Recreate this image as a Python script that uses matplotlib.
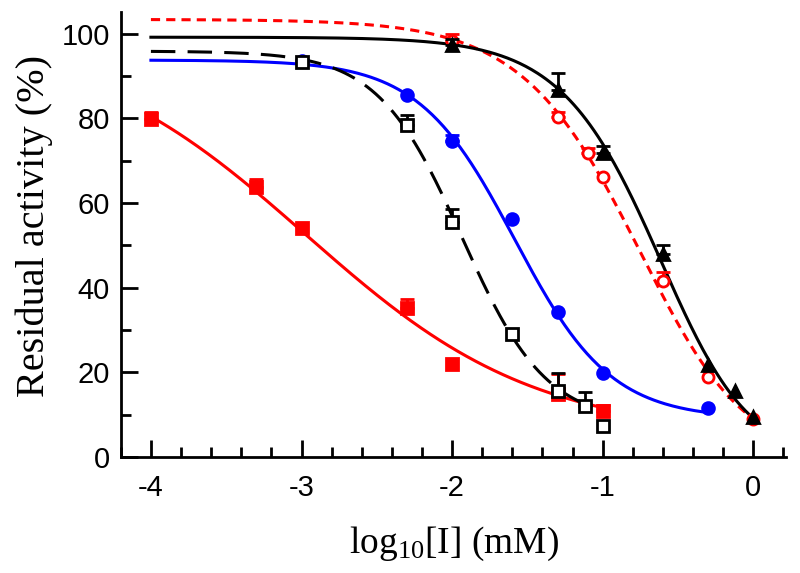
import numpy as np
import matplotlib
matplotlib.use("Agg")
import matplotlib.pyplot as plt
from matplotlib.ticker import MultipleLocator

plt.rcParams["font.family"] = "Liberation Sans"
plt.rcParams["mathtext.fontset"] = "custom"
plt.rcParams["mathtext.rm"] = "Liberation Serif"
plt.rcParams["mathtext.it"] = "Liberation Serif:italic"

# measured points: log10[I], residual activity (%), upper error (0 = hidden by marker)
sq_x = [-4, -3.3, -3, -2.3, -2, -1.3, -1]
sq_y = [79.8, 63.9, 54, 35.3, 22, 15, 10.8]
sq_e = [1.8, 1.8, 0, 2.1, 0, 4.6, 1.4]

osq_x = [-3, -2.3, -2, -1.6, -1.3, -1.12, -1]
osq_y = [93.3, 78.5, 55.5, 29, 15.5, 12, 7.4]
osq_e = [0, 2.4, 3.0, 0, 4.3, 3.4, 0]

dot_x = [-3, -2.3, -2, -1.6, -1.3, -1, -0.3]
dot_y = [93.6, 85.6, 74.7, 56.3, 34.2, 19.8, 11.6]
dot_e = [0, 0, 1.3, 0, 0, 0, 0]

tri_x = [-2, -1.3, -1, -0.6, -0.3, -0.12, 0]
tri_y = [97.4, 86.8, 71.9, 47.9, 21.7, 15.5, 9.4]
tri_e = [1.3, 3.9, 1.5, 2.1, 0, 0, 0]

oc_x = [-2, -1.3, -1.1, -1, -0.6, -0.3, 0]
oc_y = [98.4, 80.4, 71.9, 66.1, 41.6, 19.0, 8.9]
oc_e = [1.5, 1.2, 1.2, 0, 2.1, 0, 0]

# dose-response fits: top, bottom, logIC50, hill, asymmetry, x range
fit_sq = [100, 5, -2.97, 0.57, 1.0, -4, -1]
fit_osq = [95.9, 8, -1.935, 1.55, 1.0, -4, -1.1]
fit_dot = [93.8, 9, -1.584, 1.36, 1.0, -4, -0.3]
fit_tri = [99.2, 0, -0.47, 1.257, 1.5, -4, 0]
fit_oc = [103.4, 0, -0.578, 1.056, 1.5, -4, 0]


def dose_resp(p):
    top, bot, x50, h, s, x0, x1 = p
    x = np.linspace(x0, x1, 300)
    return x, bot + (top - bot) / (1 + 10 ** ((x - x50) * h)) ** s


def points(xs, ys, es, color, marker, ms, face, z):
    xs, ys, es = np.array(xs), np.array(ys), np.array(es)
    m = es > 0
    ax.errorbar(xs[m], ys[m], yerr=[np.zeros(m.sum()), es[m]], ls="none",
                color=color, capsize=5, capthick=2, elinewidth=2, zorder=z)
    ax.plot(xs, ys, ls="none", marker=marker, ms=ms, color=color, mfc=face,
            mew=2, zorder=z + 0.5)


fig = plt.figure(figsize=(8, 5.73), dpi=100)
ax = fig.add_axes([0.151, 0.2024, 0.832, 0.777])

lw = 2.2

x, y = dose_resp(fit_sq)
ax.plot(x, y, color="red", lw=lw, zorder=2)
points(sq_x, sq_y, sq_e, "red", "s", 8, "red", 3)

x, y = dose_resp(fit_dot)
ax.plot(x, y, color="blue", lw=lw, zorder=2)
points(dot_x, dot_y, dot_e, "blue", "o", 8.5, "blue", 3)

x, y = dose_resp(fit_osq)
ax.plot(x, y, color="black", lw=lw, dashes=(8, 4), zorder=2)
points(osq_x, osq_y, osq_e, "black", "s", 8.5, "white", 4)

x, y = dose_resp(fit_oc)
ax.plot(x, y, color="red", lw=lw, dashes=(3, 2), zorder=2)
points(oc_x, oc_y, oc_e, "red", "o", 8, "white", 4)

x, y = dose_resp(fit_tri)
ax.plot(x, y, color="black", lw=lw, zorder=2)
points(tri_x, tri_y, tri_e, "black", "^", 9, "black", 5)

ax.set_xlim(-4.2, 0.22)
ax.set_ylim(0, 105.2)
ax.xaxis.set_minor_locator(MultipleLocator(0.2))
ax.yaxis.set_major_locator(MultipleLocator(20))
ax.yaxis.set_minor_locator(MultipleLocator(10))
ax.set_xticks([-4, -3, -2, -1, 0])
ax.set_xticklabels(["-4", "-3", "-2", "-1", "0"])
for s in ("top", "right"):
    ax.spines[s].set_visible(False)
for s in ("left", "bottom"):
    ax.spines[s].set_linewidth(2)
ax.tick_params(which="major", direction="in", length=12, width=2, labelsize=21)
ax.tick_params(axis="x", which="major", pad=12)
ax.tick_params(axis="y", which="major", pad=8)
ax.tick_params(which="minor", direction="in", length=7, width=2)

ax.set_xlabel(r"log$_{\mathrm{10}}$[I] (mM)", family="Liberation Serif", fontsize=27)
ax.set_ylabel("Residual activity (%)", family="Liberation Serif", fontsize=29)
ax.xaxis.label.set_va("center")
ax.yaxis.label.set_va("center")
ax.xaxis.set_label_coords(0.5, -0.195)
ax.yaxis.set_label_coords(-0.13, 0.52)

fig.savefig("out.png", dpi=100)
